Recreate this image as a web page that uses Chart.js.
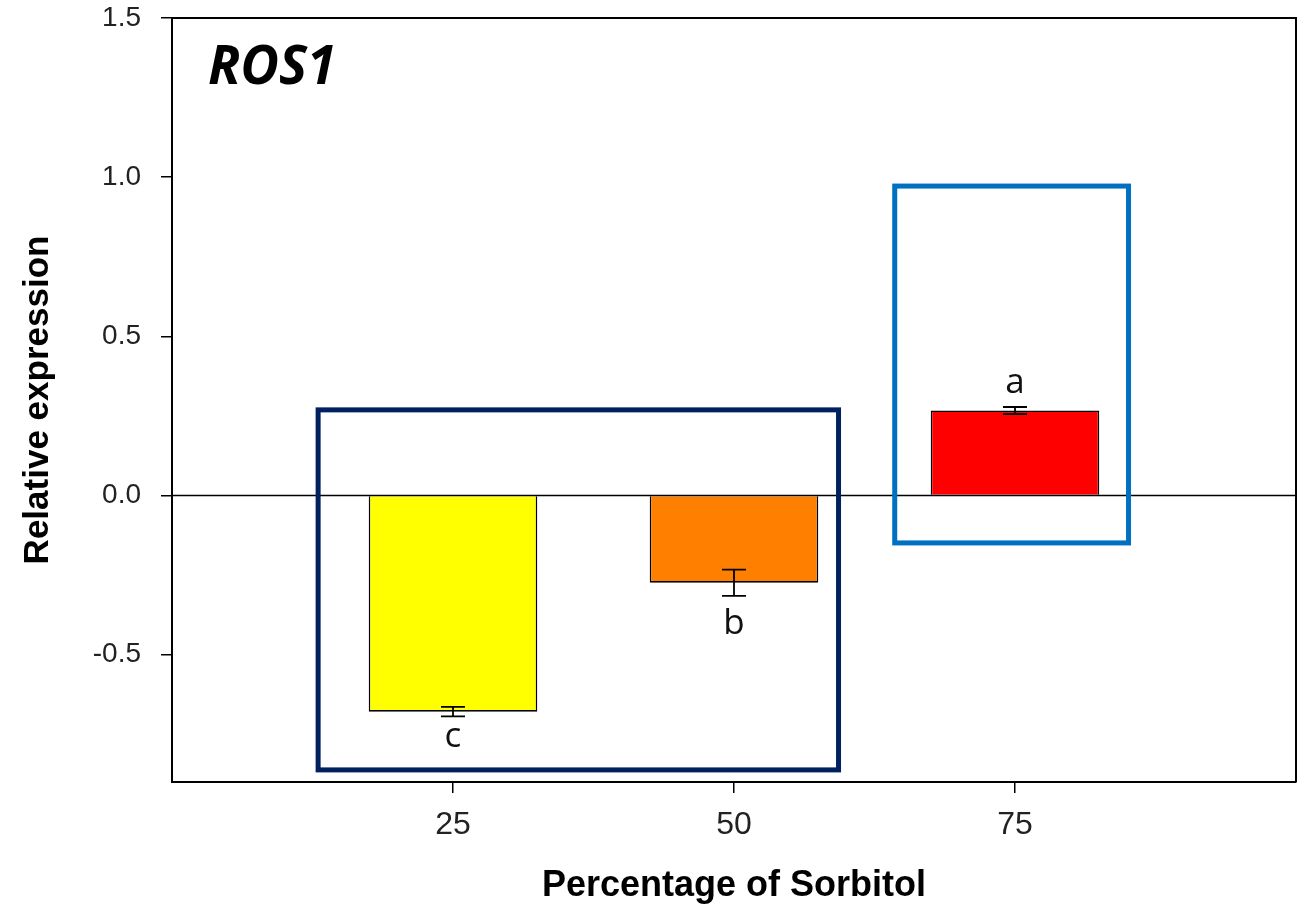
<!DOCTYPE html>
<html>
<head>
<meta charset="utf-8">
<script src="https://cdn.jsdelivr.net/npm/chart.js@4"></script>
<style>
  html, body { margin: 0; padding: 0; background: #fff; }
  #wrap { width: 1297px; height: 908px; position: relative; }
</style>
</head>
<body>
<div id="wrap"><canvas id="chart"></canvas></div>
<script>
// values
const sorbitol = [25, 50, 75];
const expression = [-0.679, -0.274, 0.267];
const errors = [0.015, 0.041, 0.011];
const letters = ['c', 'b', 'a'];
const barColors = ['#ffff00', '#ff8000', '#ff0000'];
const xTicks = [25, 50, 75];
const yTicks = [-0.5, 0.0, 0.5, 1.0, 1.5];

// highlight frames, in axis units
const frames = [
  { x0: 13.0, x1: 59.3, y0: 0.269, y1: -0.862, color: '#002060' },
  { x0: 64.3, x1: 85.1, y0: 0.972, y1: -0.149, color: '#0070c0' }
];

const extras = {
  id: 'extras',
  afterDatasetsDraw(chart) {
    const { ctx, chartArea: a, scales: { x, y } } = chart;
    ctx.save();

    // zero line
    const y0 = y.getPixelForValue(0);
    ctx.strokeStyle = '#000';
    ctx.lineWidth = 1.5;
    ctx.beginPath();
    ctx.moveTo(a.left, y0);
    ctx.lineTo(a.right, y0);
    ctx.stroke();

    // error bars
    ctx.lineWidth = 1.8;
    sorbitol.forEach((s, i) => {
      const px = x.getPixelForValue(s);
      const hi = y.getPixelForValue(expression[i] + errors[i]);
      const lo = y.getPixelForValue(expression[i] - errors[i]);
      ctx.beginPath();
      ctx.moveTo(px, hi); ctx.lineTo(px, lo);
      ctx.moveTo(px - 12, hi); ctx.lineTo(px + 12, hi);
      ctx.moveTo(px - 12, lo); ctx.lineTo(px + 12, lo);
      ctx.stroke();
    });

    // significance letters
    ctx.fillStyle = '#111';
    ctx.font = '35px "Open Sans"';
    ctx.textAlign = 'center';
    ctx.textBaseline = 'alphabetic';
    sorbitol.forEach((s, i) => {
      const px = x.getPixelForValue(s);
      const v = expression[i];
      if (v < 0) {
        const end = y.getPixelForValue(v - errors[i]);
        const m = ctx.measureText(letters[i]);
        ctx.fillText(letters[i], px, end + 12 + m.actualBoundingBoxAscent);
      } else {
        const end = y.getPixelForValue(v + errors[i]);
        ctx.fillText(letters[i], px, end - 14);
      }
    });

    // frame top and right
    ctx.strokeStyle = '#000';
    ctx.lineWidth = 2;
    ctx.beginPath();
    ctx.moveTo(a.left, a.top);
    ctx.lineTo(a.right, a.top);
    ctx.lineTo(a.right, a.bottom);
    ctx.stroke();

    // highlight frames
    ctx.lineWidth = 5;
    frames.forEach(f => {
      const l = x.getPixelForValue(f.x0), r = x.getPixelForValue(f.x1);
      const t = y.getPixelForValue(f.y0), b = y.getPixelForValue(f.y1);
      ctx.strokeStyle = f.color;
      ctx.strokeRect(l, t, r - l, b - t);
    });

    // gene name
    ctx.fillStyle = '#000';
    ctx.font = 'italic bold 53px "Open Sans"';
    ctx.textAlign = 'left';
    ctx.fillText('ROS1', a.left + 36, a.top + 66);
    ctx.restore();
  }
};

new Chart(document.getElementById('chart'), {
  type: 'bar',
  data: {
    datasets: [{
      data: sorbitol.map((s, i) => ({ x: s, y: expression[i] })),
      backgroundColor: barColors,
      borderColor: '#000',
      borderWidth: 1.6,
      barPercentage: 0.6,
      categoryPercentage: 1.0
    }]
  },
  options: {
    responsive: true,
    maintainAspectRatio: false,
    animation: false,
    layout: { padding: { top: 18, right: 1, left: 0, bottom: 0 } },
    plugins: {
      legend: { display: false },
      tooltip: { enabled: false }
    },
    scales: {
      x: {
        type: 'linear',
        min: 0,
        max: 100,
        offset: false,
        afterBuildTicks: scale => { scale.ticks = xTicks.map(v => ({ value: v })); },
        afterFit: scale => { scale.height = 126; },
        grid: { offset: false, drawOnChartArea: false, drawTicks: true, tickLength: 11, color: '#000', lineWidth: 1.5 },
        border: { display: true, color: '#000', width: 2 },
        ticks: {
          color: '#222',
          padding: 13,
          maxRotation: 0,
          font: { family: '"Liberation Sans", Arial, sans-serif', size: 32 }
        },
        title: {
          display: true,
          text: 'Percentage of Sorbitol',
          color: '#000',
          padding: 0,
          font: { family: '"Liberation Sans", Arial, sans-serif', size: 36, weight: 'bold' }
        }
      },
      y: {
        min: -0.9,
        max: 1.5,
        afterBuildTicks: scale => { scale.ticks = yTicks.map(v => ({ value: v })); },
        afterFit: scale => {
          scale.width = 172;
          scale.paddingTop = 0;
          scale.paddingBottom = 0;
        },
        grid: { drawOnChartArea: false, drawTicks: true, tickLength: 11, color: '#000', lineWidth: 1.5 },
        border: { display: true, color: '#000', width: 2 },
        ticks: {
          color: '#222',
          padding: 20,
          callback: v => v.toFixed(1),
          font: { family: '"Liberation Sans", Arial, sans-serif', size: 28 }
        },
        title: {
          display: true,
          text: 'Relative expression',
          color: '#000',
          padding: { top: 17, bottom: 0 },
          font: { family: '"Liberation Sans", Arial, sans-serif', size: 35, weight: 'bold' }
        }
      }
    }
  },
  plugins: [extras]
});
</script>
</body>
</html>
